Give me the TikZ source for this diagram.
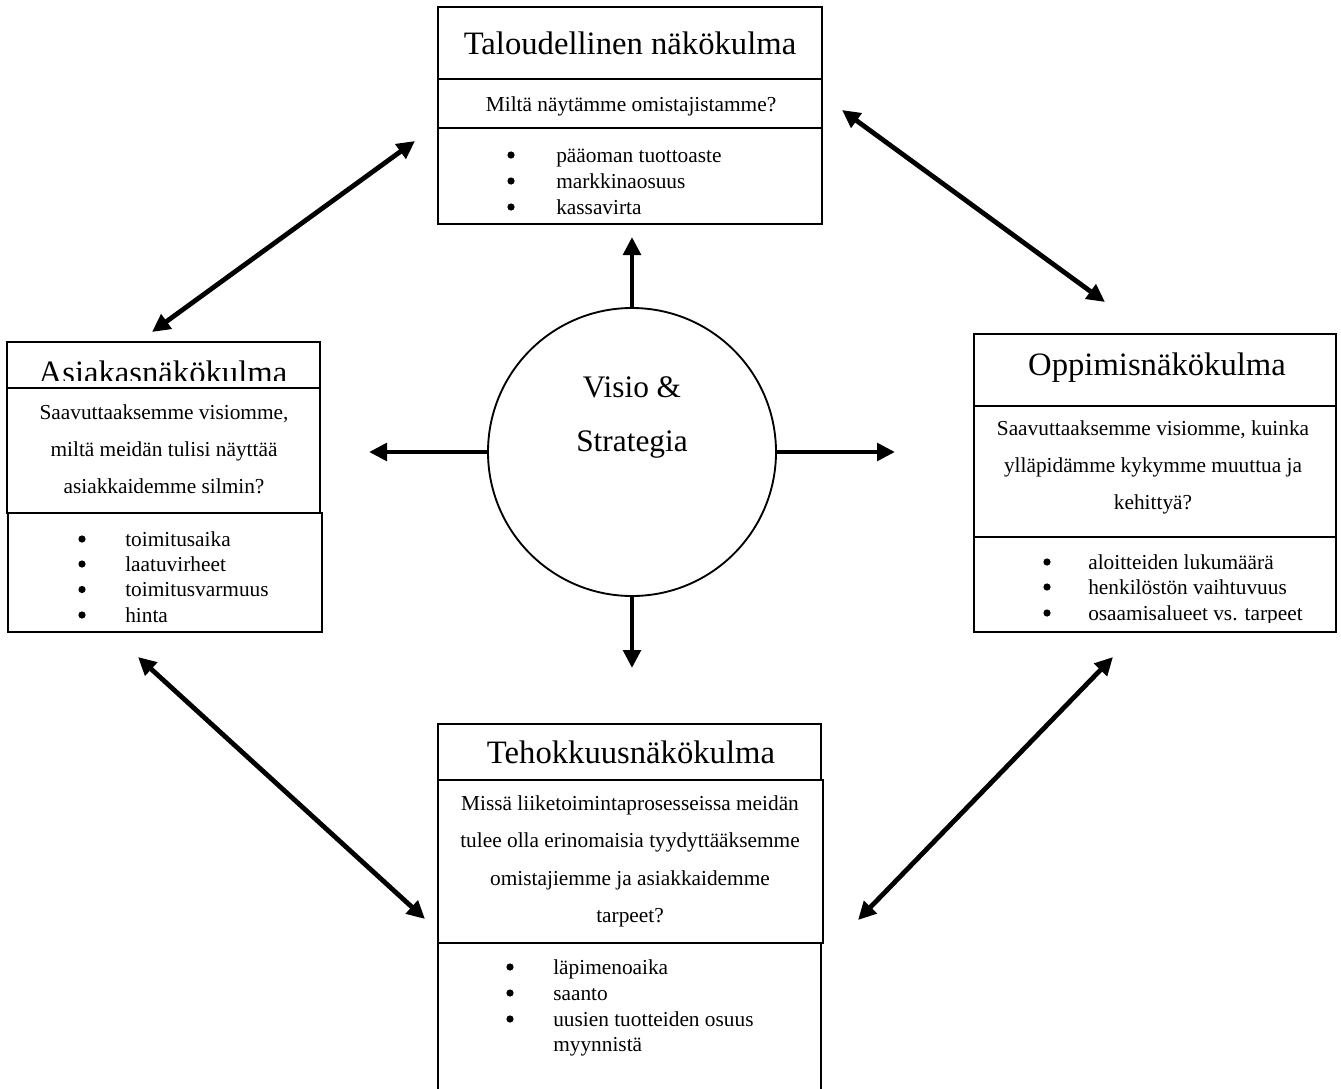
\documentclass[tikz,border=0pt]{standalone}
\usepackage{fontspec}
\setmainfont{Liberation Serif}
\usetikzlibrary{arrows.meta}
\begin{document}
\begin{tikzpicture}[x=0.75pt,y=-0.75pt,
  sect/.style={draw, line width=1.5pt},
  ttl/.style={font=\fontsize{24.5}{29}\selectfont, inner sep=0pt, anchor=base},
  bodytxt/.style={font=\fontsize{16}{19}\selectfont, inner sep=0pt, anchor=base},
  itemtxt/.style={bodytxt, anchor=base west},
  bul/.style={circle, fill=black, inner sep=0pt, minimum size=5.4pt},
  vtxt/.style={font=\fontsize{23.5}{28}\selectfont, inner sep=0pt, anchor=base},
  arr/.style={line width=3.6pt, -{Triangle[length=13.5pt,width=13pt]}},
  darr/.style={line width=3.6pt, {Triangle[length=13.5pt,width=13pt]}-{Triangle[length=13.5pt,width=13pt]}}
]
\useasboundingbox (0,0) rectangle (1341,1088);

% ---------- Top box: Taloudellinen ----------
\draw[sect] (438,7) rectangle (822,79);
\draw[sect] (438,79) rectangle (822,128);
\draw[sect] (438,128) rectangle (822,224);
\node[ttl] (tT) at (630,55) {Taloudellinen näkökulma};
\node[bodytxt] (tQ) at (631,111) {Miltä näytämme omistajistamme?};
\node[bul] (tb1) at (511,155) {};
\node[bul] (tb2) at (511,181) {};
\node[bul] (tb3) at (511,207) {};
\node[itemtxt] (ti1) at (556,162) {pääoman tuottoaste};
\node[itemtxt] (ti2) at (556,188) {markkinaosuus};
\node[itemtxt] (ti3) at (556,214) {kassavirta};

% ---------- Left box: Asiakas ----------
\draw[sect] (7,342) rectangle (320,388);
\begin{scope}
  \clip (7,342) rectangle (320,380);
  \node[ttl] (aT) at (163,383) {Asiakasnäkökulma};
\end{scope}
\draw[sect] (7,388) rectangle (320,513);
\node[bodytxt] (aQ1) at (164,419) {Saavuttaaksemme visiomme,};
\node[bodytxt] (aQ2) at (164,456) {miltä meidän tulisi näyttää};
\node[bodytxt] (aQ3) at (164,493) {asiakkaidemme silmin?};
\draw[sect] (8,513) rectangle (322,632);
\node[bul] (ab1) at (82,539) {};
\node[bul] (ab2) at (82,564) {};
\node[bul] (ab3) at (82,589.5) {};
\node[bul] (ab4) at (82,615) {};
\node[itemtxt] (ai1) at (125,546) {toimitusaika};
\node[itemtxt] (ai2) at (125,571) {laatuvirheet};
\node[itemtxt] (ai3) at (125,596.5) {toimitusvarmuus};
\node[itemtxt] (ai4) at (125,622) {hinta};

% ---------- Right box: Oppimis ----------
\draw[sect] (974,334) rectangle (1336,406);
\node[ttl] (oT) at (1157,375) {Oppimisnäkökulma};
\draw[sect] (974,406) rectangle (1336,537);
\node[bodytxt] (oQ1) at (1153,435) {Saavuttaaksemme visiomme, kuinka};
\node[bodytxt] (oQ2) at (1153,472) {ylläpidämme kykymme muuttua ja};
\node[bodytxt] (oQ3) at (1153,509) {kehittyä?};
\draw[sect] (974,537) rectangle (1336,632);
\node[bul] (ob1) at (1047,562) {};
\node[bul] (ob2) at (1047,587) {};
\node[bul] (ob3) at (1047,613) {};
\node[itemtxt] (oi1) at (1088,569) {aloitteiden lukumäärä};
\node[itemtxt] (oi2) at (1088,594.5) {henkilöstön vaihtuvuus};
\begin{scope}
  \clip (974,537) rectangle (1336,622);
  \node[itemtxt] (oi3) at (1088,620.5) {osaamisalueet vs. tarpeet};
\end{scope}

% ---------- Bottom box: Tehokkuus ----------
\draw[sect] (438,724) rectangle (821,780);
\node[ttl] (bT) at (631,763) {Tehokkuusnäkökulma};
\draw[sect] (438,780) rectangle (823,943);
\node[bodytxt] (bQ1) at (630,810) {Missä liiketoimintaprosesseissa meidän};
\node[bodytxt] (bQ2) at (630,847) {tulee olla erinomaisia tyydyttääksemme};
\node[bodytxt] (bQ3) at (630,885) {omistajiemme ja asiakkaidemme};
\node[bodytxt] (bQ4) at (630,922) {tarpeet?};
\draw[sect] (438,943) rectangle (821,1095);
\node[bul] (bb1) at (510,967) {};
\node[bul] (bb2) at (510,993) {};
\node[bul] (bb3) at (510,1019) {};
\node[itemtxt] (bi1) at (553,974) {läpimenoaika};
\node[itemtxt] (bi2) at (553,1000) {saanto};
\node[itemtxt] (bi3) at (553,1026) {uusien tuotteiden osuus};
\node[itemtxt] (bi4) at (553,1051) {myynnistä};

% ---------- Centre circle ----------
\node[circle, draw, line width=1.4pt, minimum size=216pt, inner sep=0pt] (vs) at (632,452) {};
\node[vtxt] (v1) at (632,397) {Visio \&};
\node[vtxt] (v2) at (632,451) {Strategia};

% ---------- Arrows from the circle ----------
\coordinate (upTip) at (632,237);
\coordinate (dnTip) at (632,668);
\coordinate (lfTip) at (369,452);
\coordinate (rtTip) at (895,452);
\draw[arr] (vs.north) -- (upTip);
\draw[arr] (vs.south) -- (dnTip);
\draw[arr] (vs.west) -- (lfTip);
\draw[arr] (vs.east) -- (rtTip);

% ---------- Double arrows between perspectives ----------
\coordinate (d1a) at (152,332);
\coordinate (d1b) at (415,141);
\coordinate (d2a) at (842,110);
\coordinate (d2b) at (1105,302);
\coordinate (d3a) at (138,657);
\coordinate (d3b) at (425,919);
\coordinate (d4a) at (1113,657);
\coordinate (d4b) at (858,920);
\draw[darr] (d1a) -- (d1b);
\draw[darr] (d2a) -- (d2b);
\draw[darr] (d3a) -- (d3b);
\draw[darr] (d4a) -- (d4b);
\end{tikzpicture}
\end{document}
